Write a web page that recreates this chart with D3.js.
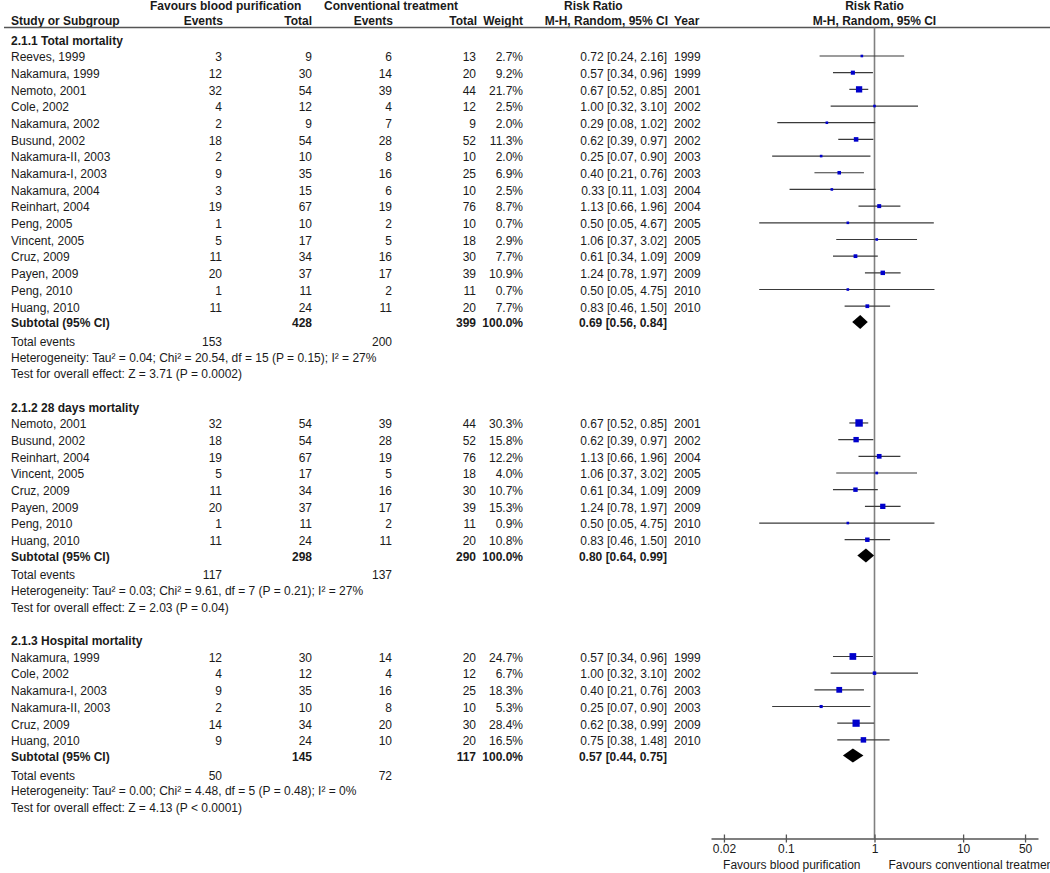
<!DOCTYPE html>
<html><head><meta charset="utf-8">
<script src="https://cdn.jsdelivr.net/npm/d3@7"></script>
<style>
html,body{margin:0;padding:0;background:#fff;}
svg{display:block;font-family:"Liberation Sans",Arial,Helvetica,sans-serif;font-size:12px;}
</style></head><body>
<svg id="chart" width="1050" height="873"></svg>
<script>
// ---------- DATA ----------
const groupTitles = ["2.1.1 Total mortality", "2.1.2 28 days mortality", "2.1.3 Hospital mortality"];

const studies1 = ["Reeves, 1999","Nakamura, 1999","Nemoto, 2001","Cole, 2002","Nakamura, 2002","Busund, 2002","Nakamura-II, 2003","Nakamura-I, 2003","Nakamura, 2004","Reinhart, 2004","Peng, 2005","Vincent, 2005","Cruz, 2009","Payen, 2009","Peng, 2010","Huang, 2010"];
const eventsBP1 = [3,12,32,4,2,18,2,9,3,19,1,5,11,20,1,11];
const totalBP1  = [9,30,54,12,9,54,10,35,15,67,10,17,34,37,11,24];
const eventsCT1 = [6,14,39,4,7,28,8,16,6,19,2,5,16,17,2,11];
const totalCT1  = [13,20,44,12,9,52,10,25,10,76,10,18,30,39,11,20];
const weight1   = [2.7,9.2,21.7,2.5,2.0,11.3,2.0,6.9,2.5,8.7,0.7,2.9,7.7,10.9,0.7,7.7];
const rr1       = [0.72,0.57,0.67,1.00,0.29,0.62,0.25,0.40,0.33,1.13,0.50,1.06,0.61,1.24,0.50,0.83];
const lo1       = [0.24,0.34,0.52,0.32,0.08,0.39,0.07,0.21,0.11,0.66,0.05,0.37,0.34,0.78,0.05,0.46];
const hi1       = [2.16,0.96,0.85,3.10,1.02,0.97,0.90,0.76,1.03,1.96,4.67,3.02,1.09,1.97,4.75,1.50];
const year1     = [1999,1999,2001,2002,2002,2002,2003,2003,2004,2004,2005,2005,2009,2009,2010,2010];

const studies2 = ["Nemoto, 2001","Busund, 2002","Reinhart, 2004","Vincent, 2005","Cruz, 2009","Payen, 2009","Peng, 2010","Huang, 2010"];
const eventsBP2 = [32,18,19,5,11,20,1,11];
const totalBP2  = [54,54,67,17,34,37,11,24];
const eventsCT2 = [39,28,19,5,16,17,2,11];
const totalCT2  = [44,52,76,18,30,39,11,20];
const weight2   = [30.3,15.8,12.2,4.0,10.7,15.3,0.9,10.8];
const rr2       = [0.67,0.62,1.13,1.06,0.61,1.24,0.50,0.83];
const lo2       = [0.52,0.39,0.66,0.37,0.34,0.78,0.05,0.46];
const hi2       = [0.85,0.97,1.96,3.02,1.09,1.97,4.75,1.50];
const year2     = [2001,2002,2004,2005,2009,2009,2010,2010];

const studies3 = ["Nakamura, 1999","Cole, 2002","Nakamura-I, 2003","Nakamura-II, 2003","Cruz, 2009","Huang, 2010"];
const eventsBP3 = [12,4,9,2,14,9];
const totalBP3  = [30,12,35,10,34,24];
const eventsCT3 = [14,4,16,8,20,10];
const totalCT3  = [20,12,25,10,30,20];
const weight3   = [24.7,6.7,18.3,5.3,28.4,16.5];
const rr3       = [0.57,1.00,0.40,0.25,0.62,0.75];
const lo3       = [0.34,0.32,0.21,0.07,0.38,0.38];
const hi3       = [0.96,3.10,0.76,0.90,0.99,1.48];
const year3     = [1999,2002,2003,2003,2009,2010];

const subTotalBP = [428, 298, 145];
const subTotalCT = [399, 290, 117];
const subRR = [0.69, 0.80, 0.57];
const subLo = [0.56, 0.64, 0.44];
const subHi = [0.84, 0.99, 0.75];
const totalEventsBP = [153, 117, 50];
const totalEventsCT = [200, 137, 72];
const hetTexts = [
  "Heterogeneity: Tau\u00b2 = 0.04; Chi\u00b2 = 20.54, df = 15 (P = 0.15); I\u00b2 = 27%",
  "Heterogeneity: Tau\u00b2 = 0.03; Chi\u00b2 = 9.61, df = 7 (P = 0.21); I\u00b2 = 27%",
  "Heterogeneity: Tau\u00b2 = 0.00; Chi\u00b2 = 4.48, df = 5 (P = 0.48); I\u00b2 = 0%"
];
const testTexts = [
  "Test for overall effect: Z = 3.71 (P = 0.0002)",
  "Test for overall effect: Z = 2.03 (P = 0.04)",
  "Test for overall effect: Z = 4.13 (P < 0.0001)"
];
const tickValues = [0.02, 0.1, 1, 10, 50];
const tickLabels = ["0.02", "0.1", "1", "10", "50"];
const favoursLeft = "Favours blood purification";
const favoursRight = "Favours conventional treatment";

// ---------- BUILD TABLE ----------
const groups = [
  {study: studies1, e: eventsBP1, n: totalBP1, ce: eventsCT1, cn: totalCT1, w: weight1, rr: rr1, lo: lo1, hi: hi1, yr: year1},
  {study: studies2, e: eventsBP2, n: totalBP2, ce: eventsCT2, cn: totalCT2, w: weight2, rr: rr2, lo: lo2, hi: hi2, yr: year2},
  {study: studies3, e: eventsBP3, n: totalBP3, ce: eventsCT3, cn: totalCT3, w: weight3, rr: rr3, lo: lo3, hi: hi3, yr: year3}
];

// ---------- LAYOUT ----------
const svg = d3.select("#chart");
const TXT = "#1a1a1a";
const rowH = 16.68, row0 = 57;
const yRow = i => row0 + i * rowH;
const base = 4.3; // baseline offset from row center

const col = {name: 11, eBP: 222, nBP: 312, eCT: 392, nCT: 476, w: 523, ci: 667, yr: 674};
const x = d3.scaleLog().domain([1/70, 70]).range([711, 1038]);
const size = d3.scaleSqrt().domain([0, 30]).range([0, 7.4]);
const f2 = d3.format(".2f"), f1 = d3.format(".1f");
const ciStr = (r, l, h) => `${f2(r)} [${f2(l)}, ${f2(h)}]`;

function txt(xp, yc, s, anchor, bold) {
  svg.append("text").attr("x", xp).attr("y", yc + base)
    .attr("text-anchor", anchor || "start")
    .attr("font-weight", bold ? "bold" : null)
    .attr("fill", TXT).text(s);
}

// header
const h1 = 5.7, h2 = 21;
txt(150, h1, "Favours blood purification", "start", true);
txt(324, h1, "Conventional treatment", "start", true);
txt(564, h1, "Risk Ratio", "start", true);
txt(x(1), h1, "Risk Ratio", "middle", true);
txt(col.name, h2, "Study or Subgroup", "start", true);
txt(col.eBP + 1, h2, "Events", "end", true);
txt(col.nBP, h2, "Total", "end", true);
txt(col.eCT + 1, h2, "Events", "end", true);
txt(col.nCT + 1, h2, "Total", "end", true);
txt(col.w, h2, "Weight", "end", true);
txt(col.ci + 1, h2, "M-H, Random, 95% CI", "end", true);
txt(col.yr, h2, "Year", "start", true);
txt(x(1), h2, "M-H, Random, 95% CI", "middle", true);

svg.append("line").attr("x1", 4).attr("x2", 1050).attr("y1", 27.5).attr("y2", 27.5)
  .attr("stroke", "#555").attr("stroke-width", 1.3);

// vertical null line
const axisY = 838.5;
svg.append("line").attr("x1", x(1)).attr("x2", x(1)).attr("y1", 27.5).attr("y2", axisY)
  .attr("stroke", "#808080").attr("stroke-width", 1.6);

// rows
let i = -1;
groups.forEach((g, gi) => {
  txt(col.name, yRow(i), groupTitles[gi], "start", true);
  i++;
  g.study.forEach((s, k) => {
    const yc = yRow(i);
    txt(col.name, yc, s);
    txt(col.eBP, yc, g.e[k], "end");
    txt(col.nBP, yc, g.n[k], "end");
    txt(col.eCT, yc, g.ce[k], "end");
    txt(col.nCT, yc, g.cn[k], "end");
    txt(col.w, yc, f1(g.w[k]) + "%", "end");
    txt(col.ci, yc, ciStr(g.rr[k], g.lo[k], g.hi[k]), "end");
    txt(col.yr, yc, g.yr[k], "start");
    const ym = yc - 1;
    svg.append("line").attr("x1", x(g.lo[k])).attr("x2", x(g.hi[k]))
      .attr("y1", ym).attr("y2", ym).attr("stroke", "#3a3a3a").attr("stroke-width", 1.2);
    const sz = Math.max(2.6, size(g.w[k]));
    svg.append("rect").attr("x", x(g.rr[k]) - sz / 2).attr("y", ym - sz / 2)
      .attr("width", sz).attr("height", sz).attr("fill", "#0000cc");
    i++;
  });
  // subtotal
  const ys = yRow(i) - 1;
  txt(col.name, ys, "Subtotal (95% CI)", "start", true);
  txt(col.nBP, ys, subTotalBP[gi], "end", true);
  txt(col.nCT, ys, subTotalCT[gi], "end", true);
  txt(col.w, ys, "100.0%", "end", true);
  txt(col.ci, ys, ciStr(subRR[gi], subLo[gi], subHi[gi]), "end", true);
  const yd = ys - 1;
  svg.append("path").attr("d", d3.line()([
    [x(subLo[gi]), yd], [x(subRR[gi]), yd - 7], [x(subHi[gi]), yd], [x(subRR[gi]), yd + 7]
  ]) + "Z").attr("fill", "#000");
  i++;
  const yt = yRow(i) + 1;
  txt(col.name, yt, "Total events");
  txt(col.eBP, yt, totalEventsBP[gi], "end");
  txt(col.eCT, yt, totalEventsCT[gi], "end");
  i++;
  txt(col.name, yRow(i), hetTexts[gi]);
  i++;
  txt(col.name, yRow(i), testTexts[gi]);
  i += 2;
});

// axis
const ax = svg.append("g").attr("transform", `translate(0,${axisY})`)
  .call(d3.axisBottom(x).tickValues(tickValues).tickSizeOuter(0).tickSizeInner(4)
    .tickFormat((d, k) => tickLabels[k]));
ax.select(".domain").attr("stroke", "#555").attr("stroke-width", 1.3);
ax.selectAll(".tick line").attr("y1", -4).attr("y2", 4).attr("stroke", "#555").attr("stroke-width", 1.3);
ax.selectAll(".tick text").attr("y", 14).attr("dy", 0).attr("fill", TXT)
  .attr("font-size", 12).attr("font-family", '"Liberation Sans",Arial,sans-serif');
svg.append("text").attr("x", x(1) - 14).attr("y", 868.5).attr("text-anchor", "end")
  .attr("fill", TXT).text(favoursLeft);
svg.append("text").attr("x", x(1) + 14).attr("y", 868.5).attr("text-anchor", "start")
  .attr("fill", TXT).text(favoursRight);
</script>
</body></html>
